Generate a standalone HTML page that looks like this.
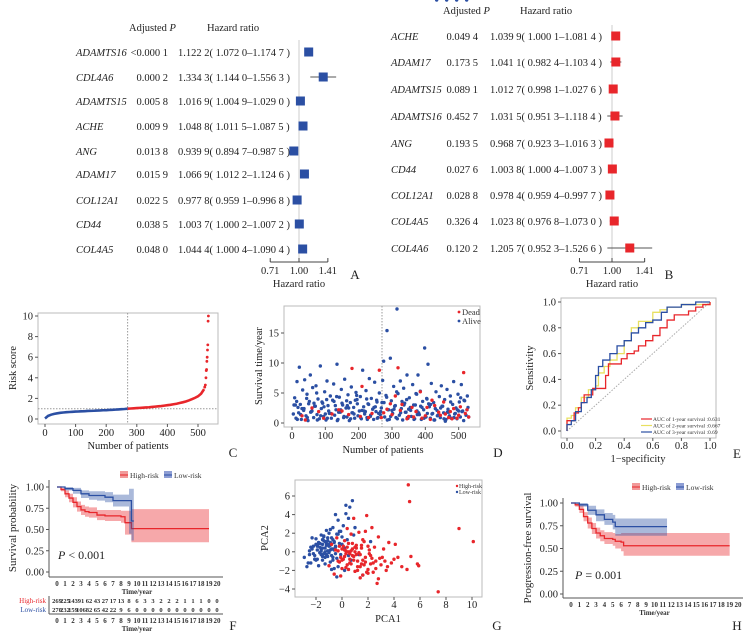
<!DOCTYPE html>
<html><head><meta charset="utf-8">
<style>
body{margin:0;background:#fff}
svg{display:block;font-family:"Liberation Serif",serif}
.t{font-size:10.5px;fill:#222}
.g{font-size:10.5px;font-style:italic;fill:#222}
.s{font-size:8.5px;fill:#333}
.L{font-size:13px;fill:#222}
</style></head>
<body>
<svg id="fig" width="750" height="636" viewBox="0 0 750 636" xmlns="http://www.w3.org/2000/svg">
<g id="root"></g>
</svg>
<script>
// ---------- Panel A / B forest data ----------
const genesA=["ADAMTS16","CDL4A6","ADAMTS15","ACHE","ANG","ADAM17","COL12A1","CD44","COL4A5"];
const pA=["<0.000 1","0.000 2","0.005 8","0.009 9","0.013 8","0.015 9","0.022 5","0.038 5","0.048 0"];
const hrTxtA=["1.122 2( 1.072 0–1.174 7 )","1.334 3( 1.144 0–1.556 3 )","1.016 9( 1.004 9–1.029 0 )","1.048 8( 1.011 5–1.087 5 )","0.939 9( 0.894 7–0.987 5 )","1.066 9( 1.012 2–1.124 6 )","0.977 8( 0.959 1–0.996 8 )","1.003 7( 1.000 2–1.007 2 )","1.044 4( 1.000 4–1.090 4 )"];
const hrA=[1.1222,1.3343,1.0169,1.0488,0.9399,1.0669,0.9778,1.0037,1.0444];
const loA=[1.0720,1.1440,1.0049,1.0115,0.8947,1.0122,0.9591,1.0002,1.0004];
const hiA=[1.1747,1.5563,1.0290,1.0875,0.9875,1.1246,0.9968,1.0072,1.0904];
const genesB=["ACHE","ADAM17","ADAMTS15","ADAMTS16","ANG","CD44","COL12A1","COL4A5","COL4A6"];
const pB=["0.049 4","0.173 5","0.089 1","0.452 7","0.193 5","0.027 6","0.028 8","0.326 4","0.120 2"];
const hrTxtB=["1.039 9( 1.000 1–1.081 4 )","1.041 1( 0.982 4–1.103 4 )","1.012 7( 0.998 1–1.027 6 )","1.031 5( 0.951 3–1.118 4 )","0.968 7( 0.923 3–1.016 3 )","1.003 8( 1.000 4–1.007 3 )","0.978 4( 0.959 4–0.997 7 )","1.023 8( 0.976 8–1.073 0 )","1.205 7( 0.952 3–1.526 6 )"];
const hrB=[1.0399,1.0411,1.0127,1.0315,0.9687,1.0038,0.9784,1.0238,1.2057];
const loB=[1.0001,0.9824,0.9981,0.9513,0.9233,1.0004,0.9594,0.9768,0.9523];
const hiB=[1.0814,1.1034,1.0276,1.1184,1.0163,1.0073,0.9977,1.0730,1.5266];
const hrTicks=[0.71,1.00,1.41];
const hrTickLabels=["0.71","1.00","1.41"];
// ---------- Panel C risk score ----------
const riskN=[0,10,20,30,40,50,60,70,80,90,100,110,120,130,140,150,160,170,180,190,200,210,220,230,240,250,260,270,280,290,300,310,320,330,340,350,360,370,380,390,400,410,420,430,440,450,460,470,480,490,500,510,520];
const riskV=[0.05,0.3,0.42,0.5,0.55,0.6,0.63,0.66,0.68,0.7,0.72,0.73,0.75,0.76,0.78,0.79,0.8,0.82,0.83,0.85,0.86,0.88,0.89,0.91,0.93,0.95,0.97,1.0,1.02,1.04,1.06,1.08,1.1,1.12,1.14,1.17,1.2,1.23,1.26,1.3,1.34,1.38,1.43,1.48,1.55,1.62,1.7,1.8,1.92,2.05,2.2,2.45,2.9];
const tailN=[522,524,526,527,528,529,530,531,532,533,534];
const tailV=[3.1,3.3,4.0,4.7,4.8,5.6,6.0,6.7,7.2,9.5,10.0];
// ---------- Panel D survival time ----------
const aliveN=[4,8,12,15,18,22,25,28,32,35,38,42,45,48,52,55,58,62,65,68,72,75,78,82,85,88,92,95,98,102,105,108,112,115,118,122,125,128,132,135,138,142,145,148,152,155,158,162,165,168,172,175,178,182,185,188,192,195,198,202,205,208,212,215,218,222,225,228,232,235,238,242,245,248,252,255,258,262,265,268,272,275,278,282,285,288,292,295,298,302,305,308,312,315,318,322,325,328,332,335,338,342,345,348,352,355,358,362,365,368,372,375,378,382,385,388,392,395,398,402,405,408,412,415,418,422,425,428,432,435,438,442,445,448,452,455,458,462,465,468,472,475,478,482,485,488,492,495,498,502,505,508,512,515,518,522,525,528,10,30,50,70,90,110,130,150,170,190,210,230,250,270,290,310,330,350,370,390,410,430,450,470,490,510,20,60,100,140,180,220,260,300,340,380,420,460,500,530,6,16,26,36,46,56,66,76,86,96,106,116,126,136,146,156,166,176,186,196,206,216,226,236,246,256,266,276,286,296,306,316,326,336,346,356,366,376,386,396,406,416,426,436,446,456,466,476,486,496,506,516,526,14,44,74,104,134,164,194,224,254,284,314,344,374,404,434,464,494,524];
const aliveT=[1.5,4.2,0.8,6.9,2.6,9.3,3.1,0.6,5.5,2.1,7.2,1.2,4.8,0.4,3.6,8.0,1.9,5.9,0.9,2.8,6.2,1.4,4.0,0.7,9.5,2.4,3.3,1.1,5.2,0.5,7.0,2.9,1.6,4.5,0.8,3.8,6.5,1.3,2.2,9.8,0.6,4.3,1.8,5.6,3.0,0.9,7.3,2.5,1.0,4.7,0.4,3.4,6.0,1.7,2.6,0.8,5.1,3.9,1.2,2.0,4.4,0.7,8.8,2.7,1.5,5.4,0.9,3.2,7.4,1.1,4.1,2.3,0.6,6.8,1.9,3.5,0.9,5.0,1.4,2.5,7.1,10.3,1.0,4.6,15.4,2.2,0.6,10.8,3.7,1.6,6.1,2.8,0.9,19.0,4.9,1.3,7.0,2.4,0.5,5.8,3.3,1.8,8.0,0.8,4.2,2.6,1.1,6.4,3.0,0.7,4.9,2.0,8.0,1.4,5.3,0.6,3.6,2.2,12.5,1.0,4.0,9.8,2.7,0.8,6.6,1.6,3.4,0.5,5.2,2.1,1.3,4.4,0.9,6.2,2.8,1.7,3.9,0.6,5.6,2.3,1.2,4.5,0.8,3.1,6.9,1.5,2.5,0.7,4.8,3.5,1.0,6.4,2.0,0.4,3.7,1.3,2.2,2.6,3.0,2.4,3.2,2.8,3.5,2.0,2.9,3.3,2.5,3.8,2.1,3.1,2.7,3.4,2.2,2.9,3.6,2.3,3.0,2.6,3.2,2.4,2.8,1.8,1.6,1.9,1.7,2.0,1.5,1.8,1.7,1.9,1.6,2.1,1.8,1.7,1.5,0.3,2.0,1.0,3.0,0.6,1.4,2.4,0.9,1.8,3.3,0.5,1.2,2.7,0.8,1.6,3.6,0.4,2.2,1.1,2.9,0.7,1.5,3.2,0.9,2.0,0.6,1.3,2.6,0.8,1.9,3.4,0.5,1.1,2.3,0.7,1.7,3.0,0.9,2.1,0.6,1.4,2.8,0.8,1.6,3.1,0.5,1.2,2.5,0.7,1.8,3.5,0.9,2.2,4.2,3.8,4.5,3.6,4.1,5.0,3.9,4.4,3.7,4.6,4.0,3.8,4.3,5.2,3.9,4.8,4.1];
const deadN=[30,60,95,120,150,180,205,240,262,268,285,300,318,330,345,360,372,385,400,415,428,440,455,470,485,500,515,525,40,210,310,350,390,420,460,480,505,530,80,140,170,230,275,295,325,365,405,445,475,495,520];
const deadT=[1.2,2.5,0.8,1.5,2.0,9.1,1.1,1.6,8.8,0.9,2.3,1.4,9.2,3.1,0.7,2.6,1.9,5.2,1.2,0.6,2.9,1.8,3.5,0.9,2.4,1.3,8.4,2.2,0.5,6.1,4.5,1.1,0.8,3.8,1.5,0.7,2.7,1.0,1.9,2.2,1.4,0.9,1.7,3.2,2.1,1.0,2.6,1.3,1.9,0.8,1.6];
// ---------- Panel E ROC ----------
const roc1X=[0,0,0.03,0.05,0.08,0.1,0.12,0.18,0.18,0.26,0.27,0.29,0.38,0.38,0.42,0.47,0.5,0.55,0.6,0.65,0.7,0.75,0.85,0.9,0.95,1];
const roc1Y=[0,0.08,0.08,0.14,0.18,0.22,0.28,0.3,0.33,0.33,0.43,0.52,0.52,0.56,0.6,0.62,0.66,0.7,0.74,0.8,0.86,0.9,0.93,0.96,0.98,1];
const roc2X=[0,0,0.03,0.06,0.1,0.15,0.2,0.22,0.26,0.3,0.35,0.4,0.45,0.5,0.6,0.65,0.7,0.8,1];
const roc2Y=[0,0.1,0.12,0.18,0.26,0.32,0.35,0.45,0.5,0.55,0.6,0.7,0.8,0.85,0.92,0.94,0.96,0.98,1];
const roc3X=[0,0,0.03,0.06,0.1,0.14,0.17,0.2,0.22,0.25,0.3,0.35,0.4,0.45,0.5,0.55,0.6,0.66,0.7,0.8,0.9,1];
const roc3Y=[0,0.05,0.08,0.15,0.22,0.26,0.32,0.43,0.5,0.55,0.6,0.66,0.7,0.76,0.8,0.84,0.86,0.92,0.96,0.98,1,1];
const rocLegend=["AUC of 1-year survival :0.631","AUC of 2-year survival :0.667","AUC of 3-year survival :0.69"];
// ---------- Panel F KM ----------
const fHighT=[0,0.5,1,1.5,2,2.5,3,3.5,4,5,6,7,8,8.5,9,9.3,9.5,19];
const fHighS=[1,0.97,0.92,0.87,0.82,0.77,0.73,0.71,0.7,0.67,0.66,0.66,0.65,0.58,0.58,0.51,0.51,0.51];
const fHighHi=[1,0.99,0.96,0.92,0.88,0.83,0.79,0.77,0.76,0.73,0.73,0.73,0.72,0.72,0.72,0.74,0.74,0.74];
const fHighLo=[1,0.95,0.88,0.82,0.76,0.71,0.67,0.65,0.64,0.61,0.6,0.6,0.58,0.44,0.44,0.35,0.35,0.35];
const fLowT=[0,1,2,3,4,5,6,7,8,9,9.3,9.6];
const fLowS=[1,0.98,0.96,0.92,0.9,0.9,0.88,0.84,0.84,0.84,0.6,0.6];
const fLowHi=[1,1,0.99,0.96,0.95,0.95,0.94,0.91,0.91,0.98,0.98,0.98];
const fLowLo=[1,0.96,0.92,0.87,0.85,0.84,0.82,0.77,0.77,0.45,0.37,0.37];
const riskHigh=[269,225,143,91,62,43,27,17,13,8,6,3,3,2,2,2,1,1,1,0,0];
const riskLow=[270,232,159,106,82,65,42,22,9,6,0,0,0,0,0,0,0,0,0,0,0];
// ---------- Panel G PCA ----------
const blueX=[-2.9,-2.7,-2.5,-2.4,-2.3,-2.2,-2.1,-2.0,-1.9,-1.8,-1.8,-1.7,-1.6,-1.6,-1.5,-1.5,-1.4,-1.4,-1.3,-1.3,-1.2,-1.2,-1.1,-1.1,-1.0,-1.0,-0.9,-0.9,-0.8,-0.8,-0.7,-0.7,-0.6,-0.6,-0.5,-0.5,-0.4,-0.4,-0.3,-0.2,-0.2,-0.1,0.0,0.1,0.2,0.3,0.4,0.5,0.6,0.8,0.9,1.0,-2.6,-2.2,-1.9,-1.7,-1.5,-1.3,-1.1,-0.9,-0.7,-0.5,-0.3,-1.2,-0.8,-1.6,-2.0,-1.0,-0.6,0.2,0.5,0.3,-0.1,1.3,1.6,2.2,0.7,-0.4,-2.4,-1.4,-2.3,-2.1,-1.9,-1.7,-1.5,-1.3,-1.1,-0.9,-0.7,-0.5,-2.0,-1.8,-1.6,-1.4,-1.2,-1.0,-0.8,-0.6,-1.5,-1.1,-0.7,-1.9,-1.3,-0.9,-2.5,-1.7,0.0,-0.3];
const blueY=[-0.6,-1.6,0.1,-1.2,1.5,0.6,-0.8,1.4,0.2,-1.5,1.0,0.5,-0.3,1.8,-0.9,0.8,1.6,-0.2,0.4,-1.3,2.3,0.9,-0.5,1.2,0.0,2.0,-1.1,0.7,1.5,-0.4,0.3,2.6,1.1,-1.8,0.6,4.0,1.9,-0.7,3.4,0.9,2.2,-0.3,1.6,2.8,0.4,5.0,1.3,3.6,4.8,5.5,1.8,2.6,-1.2,-0.2,-0.8,0.9,1.3,-0.6,0.1,1.0,-0.9,0.5,-1.6,0.7,-1.9,0.3,0.8,-0.1,0.2,-2.0,-0.4,4.1,2.2,-0.3,-2.5,1.1,-0.9,-2.7,0.5,1.7,0.3,-0.4,0.6,-0.1,0.4,1.1,0.8,0.2,1.3,-0.2,-0.9,0.9,0.1,1.2,-0.3,0.6,0.3,1.0,-0.5,1.5,-0.6,0.7,0.0,2.4,-0.3,-0.1,0.8,1.9];
const redX=[-1.0,-0.8,-0.6,-0.5,-0.4,-0.3,-0.2,-0.1,0.0,0.1,0.2,0.3,0.4,0.5,0.6,0.7,0.8,0.9,1.0,1.1,1.2,1.3,1.4,1.5,1.6,1.7,1.8,1.9,2.0,2.1,2.2,2.3,2.4,2.5,2.6,2.7,2.8,3.0,3.2,3.4,3.6,3.8,4.0,-0.2,0.2,0.5,0.8,1.1,1.4,1.7,2.0,2.3,0.0,0.4,0.9,1.2,1.6,2.1,2.6,3.1,1.0,1.5,1.9,0.3,0.6,2.8,3.5,4.1,4.3,5.1,5.2,9.0,10.1,7.4,5.8,5.9,5.3,5.0,4.6,1.8,0.1,0.3,0.5,0.7,0.9,1.1,1.3,-0.1,0.2,0.6,1.0,1.4,1.8,2.2,0.4,0.8,1.2,1.6,2.4,2.9,3.3,-0.3,0.0,0.7,1.5,2.0];
const redY=[-1.5,0.8,-2.4,0.2,1.5,-1.0,0.6,-2.6,0.3,-0.8,1.2,-1.7,2.5,0.0,-1.2,1.9,-0.4,3.6,-2.1,0.7,-1.0,2.1,-1.6,0.4,-2.5,1.1,-0.6,3.9,-1.9,0.2,-1.3,2.6,-2.2,0.5,-1.0,-3.4,1.6,-1.4,0.3,-2.0,1.0,-1.2,-0.8,-1.1,-0.5,-1.9,0.9,-0.3,-2.8,-1.4,0.6,-0.7,-1.8,0.5,-0.9,-2.0,1.3,-0.2,-1.8,-0.6,0.0,-1.3,-2.2,0.1,-0.2,-2.9,-1.6,0.8,-0.6,7.2,5.4,2.5,1.1,-4.3,-1.3,-1.5,-0.5,-1.9,-1.6,2.2,0.6,-0.2,0.9,0.1,-0.5,0.4,-0.1,-0.6,0.2,-0.8,0.5,-0.3,-1.1,-0.4,-1.4,0.3,-1.6,-0.9,-1.2,-0.7,-1.0,0.1,-0.9,-1.3,0.7,-2.3];
// ---------- Panel H PFS ----------
const hHighT=[0,0.5,1,1.5,2,2.5,3,3.5,4,5,5.3,6,6.3,19];
const hHighS=[1,0.98,0.93,0.85,0.78,0.72,0.67,0.64,0.61,0.6,0.58,0.57,0.53,0.53];
const hHighHi=[1,1,0.97,0.9,0.84,0.78,0.73,0.7,0.68,0.67,0.66,0.67,0.67,0.67];
const hHighLo=[1,0.96,0.89,0.8,0.72,0.66,0.61,0.58,0.55,0.53,0.5,0.47,0.42,0.42];
const hLowT=[0,1,2,3,4,5,5.3,11.5];
const hLowS=[1,0.98,0.92,0.87,0.82,0.79,0.74,0.74];
const hLowHi=[1,1,0.97,0.93,0.89,0.87,0.83,0.83];
const hLowLo=[1,0.96,0.87,0.8,0.76,0.71,0.64,0.64];

const NS="http://www.w3.org/2000/svg";
const root=document.getElementById('root');
const BLUE="#2b4fa3",RED="#e8262b";
function mk(tag,attrs,parent){const e=document.createElementNS(NS,tag);for(const k in attrs)e.setAttribute(k,attrs[k]);(parent||root).appendChild(e);return e;}
function txt(x,y,s,cls,anchor,parent){const e=mk('text',{x:x,y:y,class:cls||'t','text-anchor':anchor||'start'},parent);e.textContent=s;return e;}
function grp(name){const g=mk('g',{});return g;}

// ===== Forest panels =====
function forest(name,genes,pv,hrt,hr,lo,hi,rows,cfg,color,label){
  const g=grp(name);
  let h=txt(cfg.hx1,cfg.hy,"Adjusted ",'t','start',g);
  const ti=mk('tspan',{'font-style':'italic'},h);ti.textContent="P";
  txt(cfg.hx2,cfg.hy,"Hazard ratio",'t','start',g);
  const xs=v=>cfg.x1+cfg.k*Math.log(v);
  const ref=mk('line',{x1:cfg.x1,x2:cfg.x1,y1:cfg.refTop,y2:cfg.axY,stroke:'#ccc','stroke-width':1},g);
  
  
  for(let i=0;i<genes.length;i++){
    const y=rows[i];
    const gn=txt(cfg.gx,y+4,genes[i],'g','start',g);
    
    
    txt(cfg.px,y+4,pv[i],'t','end',g);
    txt(cfg.tx,y+4,hrt[i],'t','start',g);
    const ci=mk('line',{x1:xs(lo[i]),x2:xs(hi[i]),y1:y,y2:y,stroke:'#555','stroke-width':1},g);
    
    
    const m=mk('rect',{x:xs(hr[i])-4.5,y:y-4.5,width:9,height:9,fill:color},g);
    
    
  }
  mk('line',{x1:xs(hrTicks[0]),x2:xs(hrTicks[2]),y1:cfg.axY,y2:cfg.axY,stroke:'#444'},g);
  hrTicks.forEach((t,i)=>{mk('line',{x1:xs(t),x2:xs(t),y1:cfg.axY,y2:cfg.axY-4,stroke:'#444'},g);txt(xs(t),cfg.axY+12,hrTickLabels[i],'t','middle',g);});
  const xt=txt(cfg.x1,cfg.axY+25,"Hazard ratio",'t','middle',g);
  
  
  txt(cfg.lx,cfg.axY+17,label,'L','middle',g);
}
forest('forest-a',genesA,pA,hrTxtA,hrA,loA,hiA,[52,77,101,126,151,174,200,224,249],
 {hx1:129,hx2:207,hy:31,x1:299,k:84,refTop:40,axY:262,gx:76,px:168,tx:178,lx:355},BLUE,'A');
forest('forest-b',genesB,pB,hrTxtB,hrB,loB,hiB,[36,62,89,116,143,169,195,221,248],
 {hx1:443,hx2:520,hy:14,x1:612,k:95,refTop:25,axY:262,gx:391,px:478,tx:490,lx:669},RED,'B');

// ===== Axis helpers =====
function frame(g,x1,y1,x2,y2){mk('rect',{x:x1,y:y1,width:x2-x1,height:y2-y1,fill:'none',stroke:'#bbb','stroke-width':1},g);}
function yTicks(g,xL,vals,labs,ys,fs){vals.forEach((v,i)=>{const y=ys(v);mk('line',{x1:xL-3,x2:xL,y1:y,y2:y,stroke:'#555'},g);const t=txt(xL-5,y+3.5,labs[i],'t','end',g);if(fs)t.style.fontSize=fs;});}
function xTicks(g,yB,vals,labs,xs,ly,fs){vals.forEach((v,i)=>{const x=xs(v);mk('line',{x1:x,x2:x,y1:yB,y2:yB+3,stroke:'#555'},g);const t=txt(x,ly,labs[i],'t','middle',g);if(fs)t.style.fontSize=fs;});}
function vlabel(g,x,y,s,fs){const t=mk('text',{x:x,y:y,class:'t','text-anchor':'middle',transform:`rotate(-90 ${x} ${y})`},g);t.textContent=s;if(fs)t.style.fontSize=fs;return t;}

// ===== Panel C =====
{const g=grp('risk-score-plot');
 const xs=n=>45+n*0.306, ys=v=>419-10.3*v;
 frame(g,38,313,218,424);
 yTicks(g,38,[0,2,4,6,8,10],["0","2","4","6","8","10"],ys);
 xTicks(g,424,[0,100,200,300,400,500],["0","100","200","300","400","500"],xs,436);
 mk('line',{x1:xs(270),x2:xs(270),y1:313,y2:424,stroke:'#999','stroke-dasharray':'1.5,1.5'},g);
 mk('line',{x1:38,x2:218,y1:ys(1),y2:ys(1),stroke:'#999','stroke-dasharray':'1.5,1.5'},g);
 let pb=[],pr=[];
 riskN.forEach((n,i)=>{if(n<=270)pb.push(xs(n)+','+ys(riskV[i]));if(n>=270)pr.push(xs(n)+','+ys(riskV[i]));});
 const lb=mk('polyline',{points:pb.join(' '),fill:'none',stroke:BLUE,'stroke-width':2.6},g);
 
 
 const lr=mk('polyline',{points:pr.join(' '),fill:'none',stroke:RED,'stroke-width':2.6},g);
 
 
 tailN.forEach((n,i)=>{const c=mk('circle',{cx:xs(n),cy:ys(tailV[i]),r:1.4,fill:RED},g);});
 vlabel(g,16,368,"Risk score");
 txt(128,449,"Number of patients",'t','middle',g);
 txt(233,457,"C",'L','middle',g);}

// ===== Panel D =====
{const g=grp('survival-time-scatter');
 const xs=n=>292+n/3, ys=t=>423-6*t;
 frame(g,284,306,480,427);
 yTicks(g,284,[0,5,10,15],["0","5","10","15"],ys);
 xTicks(g,427,[0,100,200,300,400,500],["0","100","200","300","400","500"],xs,439);
 mk('line',{x1:xs(270),x2:xs(270),y1:306,y2:427,stroke:'#999','stroke-dasharray':'1.5,1.5'},g);
 aliveN.forEach((n,i)=>{const c=mk('circle',{cx:xs(n),cy:ys(aliveT[i]),r:1.7,fill:BLUE},g);});
 deadN.forEach((n,i)=>{const c=mk('circle',{cx:xs(n),cy:ys(deadT[i]),r:1.7,fill:RED},g);});
 mk('circle',{cx:459,cy:312,r:1.4,fill:RED},g);txt(462,315,"Dead",'s','start',g);
 mk('circle',{cx:459,cy:321,r:1.4,fill:BLUE},g);txt(462,324,"Alive",'s','start',g);
 vlabel(g,262,366,"Survival time/year");
 txt(383,453,"Number of patients",'t','middle',g);
 txt(498,457,"D",'L','middle',g);}

// ===== Panel E =====
{const g=grp('roc-plot');
 const xs=v=>567+v*143, ys=v=>431-v*129;
 frame(g,561,298,716,438);
 yTicks(g,561,[0,0.2,0.4,0.6,0.8,1.0],["0.0","0.2","0.4","0.6","0.8","1.0"],ys);
 xTicks(g,438,[0,0.2,0.4,0.6,0.8,1.0],["0.0","0.2","0.4","0.6","0.8","1.0"],xs,449);
 mk('line',{x1:xs(0),y1:ys(0),x2:xs(1),y2:ys(1),stroke:'#aaa','stroke-dasharray':'1.5,1.5'},g);
 [[roc2X,roc2Y,'#e8e060','roc-2-year'],[roc1X,roc1Y,RED,'roc-1-year'],[roc3X,roc3Y,BLUE,'roc-3-year']].forEach(([X,Y,c,nm])=>{
  let p=[];for(let i=0;i<X.length;i++){if(i>0)p.push(xs(X[i])+','+ys(Y[i-1]));p.push(xs(X[i])+','+ys(Y[i]));}
  const l=mk('polyline',{points:p.join(' '),fill:'none',stroke:c,'stroke-width':1.3},g);
  
  });
 [RED,'#e8e060',BLUE].forEach((c,i)=>{const y=419+i*6.5;mk('line',{x1:641,x2:652,y1:y,y2:y,stroke:c,'stroke-width':1.2},g);const t=txt(653,y+2,rocLegend[i],'s','start',g);t.style.fontSize='5.5px';});
 vlabel(g,533,368,"Sensitivity");
 txt(638,462,"1−specificity",'t','middle',g);
 txt(737,458,"E",'L','middle',g);}

// ===== KM helper =====
function km(g,T,S,HI,LO,xs,ys,color,nm){
 let up=[],dn=[],ln=[];
 for(let i=0;i<T.length;i++){
  if(i>0){up.push(xs(T[i])+','+ys(HI[i-1]));dn.push(xs(T[i])+','+ys(LO[i-1]));ln.push(xs(T[i])+','+ys(S[i-1]));}
  up.push(xs(T[i])+','+ys(HI[i]));dn.push(xs(T[i])+','+ys(LO[i]));ln.push(xs(T[i])+','+ys(S[i]));}
 const band=mk('polygon',{points:up.concat(dn.reverse()).join(' '),fill:color,'fill-opacity':0.4},g);
 
 
 const l=mk('polyline',{points:ln.join(' '),fill:'none',stroke:color,'stroke-width':1.3},g);
 
 }
function kmLegend(g,x,y){
 mk('rect',{x:x,y:y-4,width:8,height:7,fill:'#f19a9a'},g);mk('line',{x1:x,x2:x+8,y1:y,y2:y,stroke:RED},g);
 const a=txt(x+10,y+3,"High-risk",'s','start',g);a.style.fontSize='7.5px';
 mk('rect',{x:x+44,y:y-4,width:8,height:7,fill:'#8e9ed4'},g);mk('line',{x1:x+44,x2:x+52,y1:y,y2:y,stroke:BLUE},g);
 const b=txt(x+54,y+3,"Low-risk",'s','start',g);b.style.fontSize='7.5px';}
const yrs=[...Array(21).keys()];

// ===== Panel F =====
{const g=grp('km-overall-survival');
 const xs=t=>57+8*t, ys=s=>572-85*s;
 kmLegend(g,120,475);
 mk('line',{x1:49,x2:49,y1:480,y2:577,stroke:'#555'},g);
 mk('line',{x1:49,x2:223,y1:577,y2:577,stroke:'#555'},g);
 yTicks(g,49,[0,0.25,0.5,0.75,1],["0.00","0.25","0.50","0.75","1.00"],ys);
 km(g,fHighT,fHighS,fHighHi,fHighLo,xs,ys,RED,'high-risk');
 km(g,fLowT,fLowS,fLowHi,fLowLo,xs,ys,BLUE,'low-risk');
 yrs.forEach(t=>{const a=txt(xs(t),586,String(t),'s','middle',g);a.style.fontSize='7px';a.style.fontWeight='bold';});
 let tt=txt(xs(10),594,"Time/year",'s','middle',g);tt.style.fontSize='7px';tt.style.fontWeight='bold';
 const p=txt(58,559,"",'t','start',g);p.style.fontSize='12px';p.innerHTML='<tspan font-style="italic">P</tspan> &lt; 0.001';
 vlabel(g,16,528,"Survival probability",'11px');
 mk('line',{x1:49,x2:49,y1:596,y2:614,stroke:'#555'},g);
 mk('line',{x1:49,x2:223,y1:614,y2:614,stroke:'#555'},g);
 let h=txt(46,603,"High-risk",'s','end',g);h.style.fontSize='7px';h.style.fill=RED;
 let l=txt(46,612,"Low-risk",'s','end',g);l.style.fontSize='7px';l.style.fill=BLUE;
 yrs.forEach(t=>{let a=txt(xs(t),603,String(riskHigh[t]),'s','middle',g);a.style.fontSize='6.5px';a.style.fontWeight='bold';
   let b=txt(xs(t),612,String(riskLow[t]),'s','middle',g);b.style.fontSize='6.5px';b.style.fontWeight='bold';
   let c=txt(xs(t),623,String(t),'s','middle',g);c.style.fontSize='7px';c.style.fontWeight='bold';});
 tt=txt(xs(10),631,"Time/year",'s','middle',g);tt.style.fontSize='7px';tt.style.fontWeight='bold';
 txt(233,630,"F",'L','middle',g);}

// ===== Panel G =====
{const g=grp('pca-scatter');
 const xs=v=>316+(v+2)*13, ys=v=>551.8-9.3*v;
 frame(g,295,480,482,597);
 yTicks(g,295,[-4,-2,0,2,4,6],["−4","−2","0","2","4","6"],ys);
 xTicks(g,597,[-2,0,2,4,6,8,10],["−2","0","2","4","6","8","10"],xs,608);
 blueX.forEach((v,i)=>{const c=mk('circle',{cx:xs(v),cy:ys(blueY[i]),r:1.7,fill:BLUE},g);});
 redX.forEach((v,i)=>{const c=mk('circle',{cx:xs(v),cy:ys(redY[i]),r:1.7,fill:RED},g);});
 mk('circle',{cx:457,cy:486,r:1.2,fill:RED},g);let a=txt(459,488,"High-risk",'s','start',g);a.style.fontSize='6px';
 mk('circle',{cx:457,cy:492,r:1.2,fill:BLUE},g);a=txt(459,494,"Low-risk",'s','start',g);a.style.fontSize='6px';
 vlabel(g,268,538,"PCA2");
 txt(388,622,"PCA1",'t','middle',g);
 txt(497,630,"G",'L','middle',g);}

// ===== Panel H =====
{const g=grp('km-progression-free');
 const xs=t=>571+8.35*t, ys=s=>594-91*s;
 kmLegend(g,632,487);
 mk('line',{x1:563,x2:563,y1:498,y2:598,stroke:'#555'},g);
 mk('line',{x1:563,x2:743,y1:598,y2:598,stroke:'#555'},g);
 yTicks(g,563,[0,0.25,0.5,0.75,1],["0.00","0.25","0.50","0.75","1.00"],ys);
 km(g,hHighT,hHighS,hHighHi,hHighLo,xs,ys,RED,'high-risk');
 km(g,hLowT,hLowS,hLowHi,hLowLo,xs,ys,BLUE,'low-risk');
 yrs.forEach(t=>{const a=txt(xs(t),607,String(t),'s','middle',g);a.style.fontSize='7px';a.style.fontWeight='bold';});
 const tt=txt(xs(10),615,"Time/year",'s','middle',g);tt.style.fontSize='7px';tt.style.fontWeight='bold';
 const p=txt(575,579,"",'t','start',g);p.style.fontSize='12px';p.innerHTML='<tspan font-style="italic">P</tspan> = 0.001';
 vlabel(g,531,548,"Progression-free survival",'11px');
 txt(737,630,"H",'L','middle',g);}
</script>
</body></html>
